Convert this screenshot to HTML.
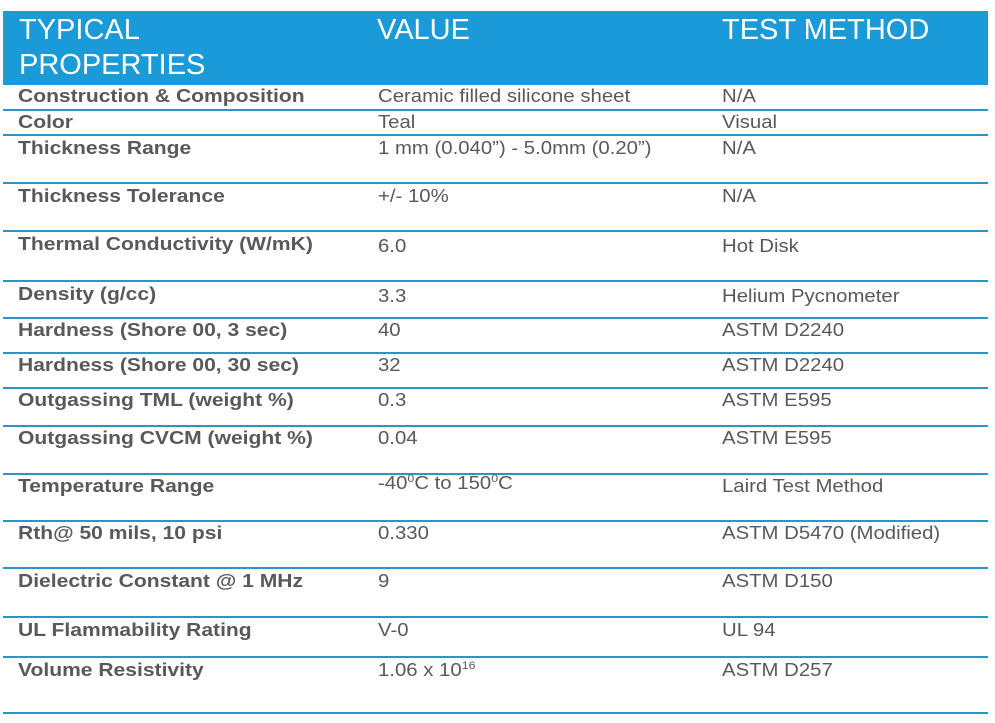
<!DOCTYPE html>
<html><head><meta charset="utf-8"><style>
body{margin:0;width:995px;height:723px;background:#fff;position:relative;overflow:hidden;font-family:"Liberation Sans",Arial,sans-serif;}
.hd{position:absolute;left:3px;top:11px;width:985px;height:74px;background:#1a9ad6;}
.h{position:absolute;color:#fff;font-size:29px;line-height:35px;}
.ln{position:absolute;left:3px;width:985px;height:2px;background:#2a95c8;}
.t{position:absolute;font-size:18px;line-height:18px;color:#595959;white-space:nowrap;transform-origin:0 0;transform:scaleX(1.13);}
.b{font-weight:bold;transform:scaleX(1.17);}
sup{font-size:11px;line-height:0;}
</style></head><body>
<div class="hd"></div>
<div class="h" style="left:19px;top:13px">TYPICAL<br>PROPERTIES</div>
<div class="h" style="left:377px;top:13px">VALUE</div>
<div class="h" style="left:722px;top:13px">TEST METHOD</div>

<div class="ln" style="top:109px"></div>
<div class="ln" style="top:134px"></div>
<div class="ln" style="top:182px"></div>
<div class="ln" style="top:230px"></div>
<div class="ln" style="top:280px"></div>
<div class="ln" style="top:317px"></div>
<div class="ln" style="top:352px"></div>
<div class="ln" style="top:387px"></div>
<div class="ln" style="top:425px"></div>
<div class="ln" style="top:473px"></div>
<div class="ln" style="top:520px"></div>
<div class="ln" style="top:567px"></div>
<div class="ln" style="top:616px"></div>
<div class="ln" style="top:656px"></div>
<div class="ln" style="top:712px"></div>

<div class="t b" style="left:18px;top:87px">Construction &amp; Composition</div>
<div class="t" style="left:378px;top:87px">Ceramic filled silicone sheet</div>
<div class="t" style="left:722px;top:87px">N/A</div>

<div class="t b" style="left:18px;top:113px">Color</div>
<div class="t" style="left:378px;top:113px">Teal</div>
<div class="t" style="left:722px;top:113px">Visual</div>

<div class="t b" style="left:18px;top:139px">Thickness Range</div>
<div class="t" style="left:378px;top:139px">1 mm (0.040”) - 5.0mm (0.20”)</div>
<div class="t" style="left:722px;top:139px">N/A</div>

<div class="t b" style="left:18px;top:187px">Thickness Tolerance</div>
<div class="t" style="left:378px;top:187px">+/- 10%</div>
<div class="t" style="left:722px;top:187px">N/A</div>

<div class="t b" style="left:18px;top:235px">Thermal Conductivity (W/mK)</div>
<div class="t" style="left:378px;top:237px">6.0</div>
<div class="t" style="left:722px;top:237px">Hot Disk</div>

<div class="t b" style="left:18px;top:285px">Density (g/cc)</div>
<div class="t" style="left:378px;top:287px">3.3</div>
<div class="t" style="left:722px;top:287px">Helium Pycnometer</div>

<div class="t b" style="left:18px;top:321px">Hardness (Shore 00, 3 sec)</div>
<div class="t" style="left:378px;top:321px">40</div>
<div class="t" style="left:722px;top:321px">ASTM D2240</div>

<div class="t b" style="left:18px;top:356px">Hardness (Shore 00, 30 sec)</div>
<div class="t" style="left:378px;top:356px">32</div>
<div class="t" style="left:722px;top:356px">ASTM D2240</div>

<div class="t b" style="left:18px;top:391px">Outgassing TML (weight %)</div>
<div class="t" style="left:378px;top:391px">0.3</div>
<div class="t" style="left:722px;top:391px">ASTM E595</div>

<div class="t b" style="left:18px;top:429px">Outgassing CVCM (weight %)</div>
<div class="t" style="left:378px;top:429px">0.04</div>
<div class="t" style="left:722px;top:429px">ASTM E595</div>

<div class="t b" style="left:18px;top:477px">Temperature Range</div>
<div class="t" style="left:378px;top:474px">-40<sup>0</sup>C to 150<sup>0</sup>C</div>
<div class="t" style="left:722px;top:477px">Laird Test Method</div>

<div class="t b" style="left:18px;top:524px">Rth@ 50 mils, 10 psi</div>
<div class="t" style="left:378px;top:524px">0.330</div>
<div class="t" style="left:722px;top:524px">ASTM D5470 (Modified)</div>

<div class="t b" style="left:18px;top:572px">Dielectric Constant @ 1 MHz</div>
<div class="t" style="left:378px;top:572px">9</div>
<div class="t" style="left:722px;top:572px">ASTM D150</div>

<div class="t b" style="left:18px;top:621px">UL Flammability Rating</div>
<div class="t" style="left:378px;top:621px">V-0</div>
<div class="t" style="left:722px;top:621px">UL 94</div>

<div class="t b" style="left:18px;top:661px">Volume Resistivity</div>
<div class="t" style="left:378px;top:661px">1.06 x 10<sup>16</sup></div>
<div class="t" style="left:722px;top:661px">ASTM D257</div>
</body></html>
